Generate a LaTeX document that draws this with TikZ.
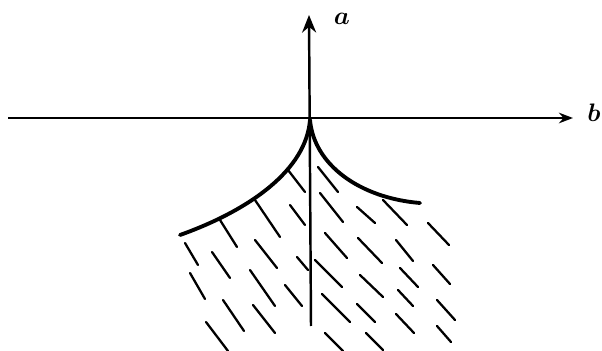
\documentclass[tikz,border=0pt]{standalone}
\usepackage{amsmath,amssymb}
\usetikzlibrary{arrows.meta}

\tikzset{
  axis/.style={line width=1.4pt},
  edge/.style={line width=2.2pt, line cap=round},
  hatch/.style={line width=1.3pt, line cap=round},
}

\begin{document}
\begin{tikzpicture}[x=0.02cm, y=-0.02cm, >=Stealth]
  \useasboundingbox (0,0) rectangle (602,351);
  % axes
  \coordinate (O) at (310,120);
  \coordinate (xs) at (8,118);
  \coordinate (xe) at (573,118);
  \coordinate (ys) at (311,326);
  \coordinate (ye) at (309,15);
  \draw[axis, -{Stealth[length=8pt,width=6pt]}] (xs) -- (xe);
  \draw[axis, -{Stealth[length=10pt,width=8pt]}] (ys) -- (ye);
  \node[font=\Large] (a) at (342,19) {$\boldsymbol{a}$};
  \node[font=\Large] (b) at (594,113) {$\boldsymbol{b}$};
  % cusp
  \coordinate (L) at (180,235);
  \coordinate (R) at (420,203);
  \draw[edge] (O) .. controls (306,170) and (250,210) .. (L);
  \draw[edge] (O) .. controls (314,165) and (360,198) .. (R);
  % hatching
  \foreach \xa/\ya/\xb/\yb in {
    288/170/305/192, 318/167/338/192, 220/220/237/247, 255/200/280/237,
    290/205/305/225, 320/193/343/222, 357/207/375/223, 383/200/407/225,
    428/223/449/245, 185/243/198/265, 212/252/230/278, 255/240/277/268,
    297/257/308/270, 325/233/347/258, 358/238/382/263, 396/240/413/261,
    190/273/205/299, 250/270/275/306, 285/285/302/306, 315/260/342/287,
    360/275/383/297, 400/268/418/287, 433/265/450/284, 223/300/244/331,
    253/305/275/333, 322/294/350/322, 357/304/375/322, 398/290/413/306,
    437/300/455/320, 206/322/228/351, 325/333/343/351, 366/333/383/350,
    396/314/414/333, 437/326/451/342}
    \draw[hatch] (\xa,\ya) -- (\xb,\yb);
\end{tikzpicture}
\end{document}
